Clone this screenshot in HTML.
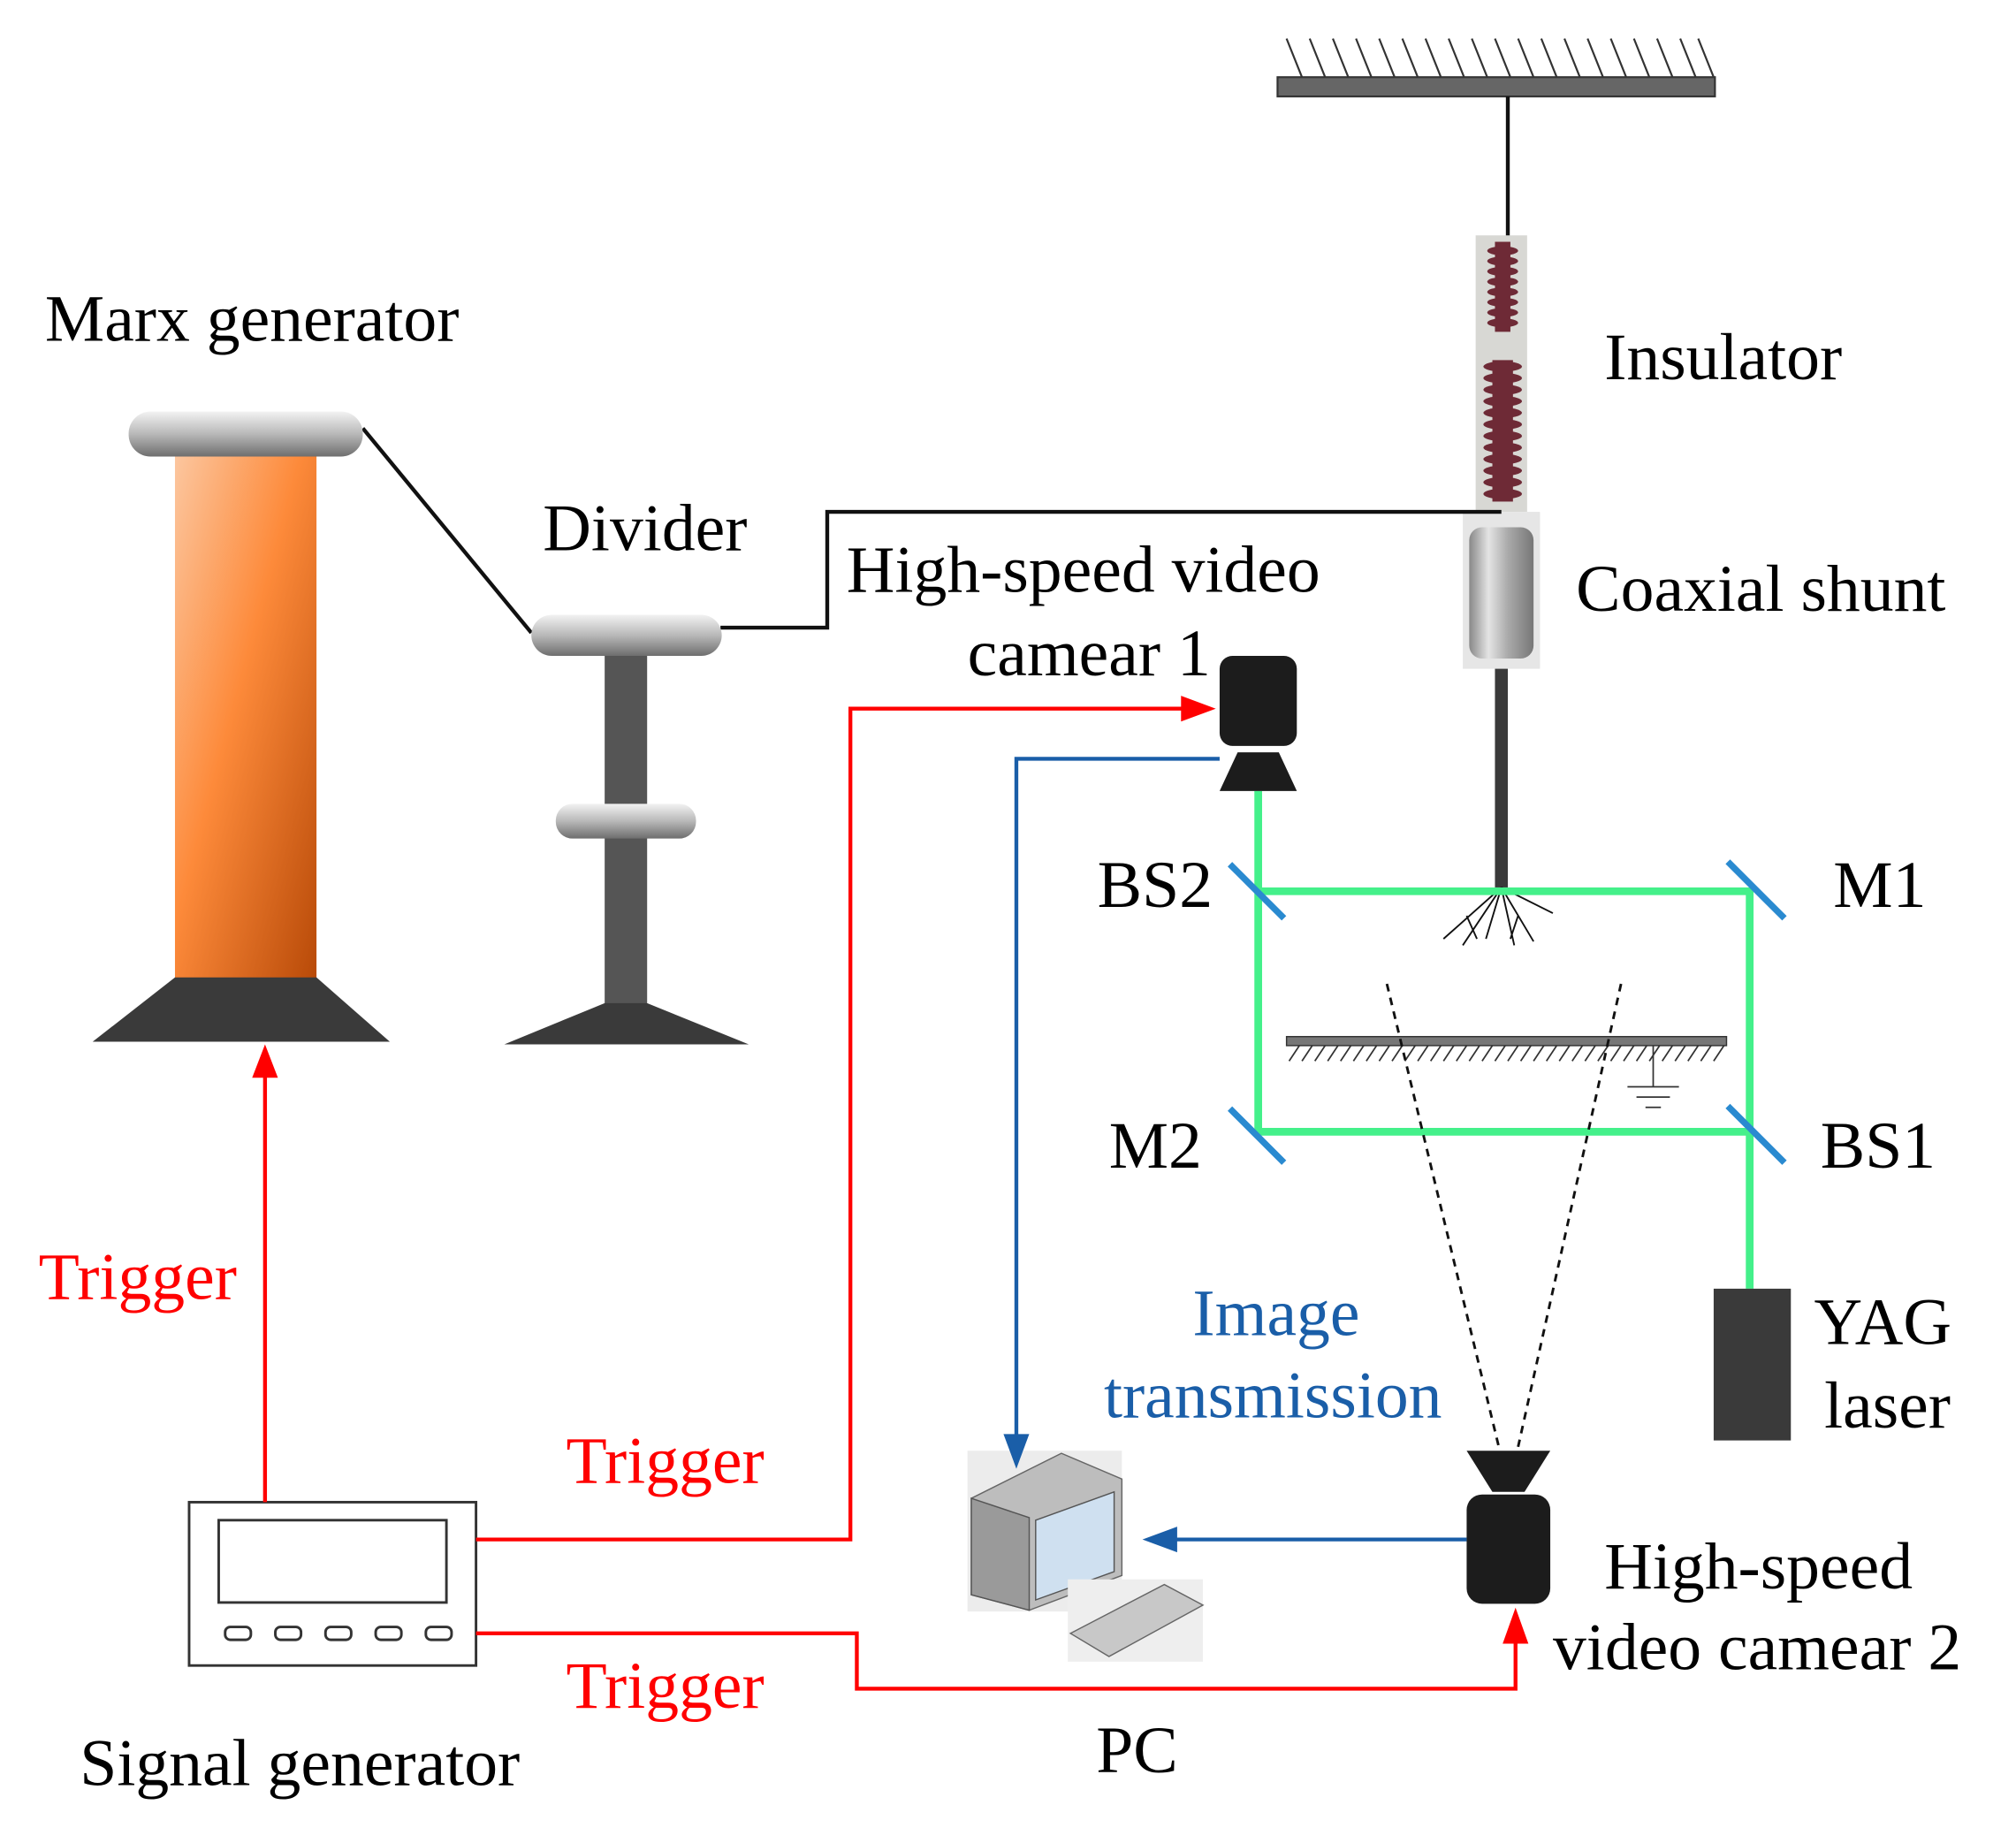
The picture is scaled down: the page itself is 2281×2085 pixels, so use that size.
<!DOCTYPE html>
<html><head><style>html,body{margin:0;padding:0;background:#fff}svg{display:block}</style></head>
<body>
<svg width="2281" height="2085" viewBox="0 0 1567 1433" preserveAspectRatio="none" xmlns="http://www.w3.org/2000/svg" font-family="Liberation Serif, serif">
<defs>
<linearGradient id="org" x1="0" y1="0" x2="1" y2="1"><stop offset="0" stop-color="#fcc7a0"/><stop offset="0.45" stop-color="#fd8a3a"/><stop offset="1" stop-color="#b84a08"/></linearGradient>
<linearGradient id="cap" x1="0" y1="0" x2="0" y2="1"><stop offset="0" stop-color="#f2f2f2"/><stop offset="0.5" stop-color="#b8b8b8"/><stop offset="1" stop-color="#6e6e6e"/></linearGradient>
<linearGradient id="met" x1="0" y1="0" x2="1" y2="0"><stop offset="0" stop-color="#888"/><stop offset="0.3" stop-color="#e4e4e4"/><stop offset="0.6" stop-color="#aaa"/><stop offset="1" stop-color="#777"/></linearGradient>
</defs>
<g stroke="#333" stroke-width="1.5">
<path d="M1000,30l12,30M1018,30l12,30M1036,30l12,30M1054,30l12,30M1072,30l12,30M1090,30l12,30M1108,30l12,30M1126,30l12,30M1144,30l12,30M1162,30l12,30M1180,30l12,30M1198,30l12,30M1216,30l12,30M1234,30l12,30M1252,30l12,30M1270,30l12,30M1288,30l12,30M1306,30l12,30M1320,30l12,30"/>
</g>
<rect x="993" y="60" width="340" height="15" fill="#666" stroke="#333" stroke-width="1.5"/>
<line x1="1172" y1="75" x2="1172" y2="185" stroke="#111" stroke-width="3"/>
<rect x="1147" y="183" width="40" height="215" fill="#d8d8d4"/>
<g fill="#6e2a36">
<rect x="1162" y="188" width="12" height="70"/>
<rect x="1160" y="280" width="16" height="110"/>
<g id="d"><ellipse cx="1168" cy="195" rx="12" ry="3.5"/></g>
<use href="#d" y="8"/><use href="#d" y="16"/><use href="#d" y="24"/><use href="#d" y="32"/><use href="#d" y="40"/><use href="#d" y="48"/><use href="#d" y="56"/>
<g id="e"><ellipse cx="1168" cy="285" rx="15" ry="4"/></g>
<use href="#e" y="9"/><use href="#e" y="18"/><use href="#e" y="27"/><use href="#e" y="36"/><use href="#e" y="45"/><use href="#e" y="54"/><use href="#e" y="63"/><use href="#e" y="72"/><use href="#e" y="81"/><use href="#e" y="90"/><use href="#e" y="99"/>
</g>
<rect x="1137" y="398" width="60" height="122" fill="#e6e6e6"/>
<rect x="1142" y="410" width="50" height="102" rx="10" fill="url(#met)"/>
<rect x="1162" y="520" width="10" height="170" fill="#3a3a3a"/>
<g stroke="#111" stroke-width="1.3" fill="none">
<path d="M1167,690l-45,40M1167,690l-30,45M1167,690l-12,40M1167,690l10,45M1167,690l25,42M1167,690l40,20M1140,712l8,18M1180,712l-6,18"/>
</g>
<polyline points="1167,398 643,398 643,488 560,488" fill="none" stroke="#111" stroke-width="3"/>
<line x1="282" y1="333" x2="413" y2="492" stroke="#111" stroke-width="3"/>
<rect x="136" y="350" width="110" height="412" fill="url(#org)"/>
<path d="M136,760H246L303,810H72Z" fill="#3a3a3a"/>
<rect x="100" y="320" width="182" height="35" rx="17" fill="url(#cap)"/>
<rect x="470" y="508" width="33" height="274" fill="#555"/>
<path d="M470,780H503L582,812H392Z" fill="#3a3a3a"/>
<rect x="413" y="478" width="148" height="32" rx="16" fill="url(#cap)"/>
<rect x="432" y="625" width="109" height="27" rx="13" fill="url(#cap)"/>
<g stroke="#44f08a" stroke-width="6" fill="none">
<polyline points="978,615 978,880 1360,880 1360,1002"/>
<polyline points="978,693 1360,693 1360,880"/>
</g>
<g stroke="#2a8ad0" stroke-width="5">
<line x1="956" y1="672" x2="998" y2="714"/><line x1="1343" y1="670" x2="1387" y2="714"/>
<line x1="956" y1="862" x2="998" y2="904"/><line x1="1343" y1="860" x2="1387" y2="904"/>
</g>
<rect x="1000" y="806" width="342" height="7" fill="#777" stroke="#333" stroke-width="1"/>
<g stroke="#333" stroke-width="1.2"><path d="M1010,813l-8,12M1020,813l-8,12M1030,813l-8,12M1040,813l-8,12M1050,813l-8,12M1060,813l-8,12M1070,813l-8,12M1080,813l-8,12M1090,813l-8,12M1100,813l-8,12M1110,813l-8,12M1120,813l-8,12M1130,813l-8,12M1140,813l-8,12M1150,813l-8,12M1160,813l-8,12M1170,813l-8,12M1180,813l-8,12M1190,813l-8,12M1200,813l-8,12M1210,813l-8,12M1220,813l-8,12M1230,813l-8,12M1240,813l-8,12M1250,813l-8,12M1260,813l-8,12M1270,813l-8,12M1280,813l-8,12M1290,813l-8,12M1300,813l-8,12M1310,813l-8,12M1320,813l-8,12M1330,813l-8,12M1340,813l-8,12"/>
<path d="M1285,813V845M1265,845H1305M1272,853H1298M1279,861H1291"/></g>
<g stroke="#111" stroke-width="2" stroke-dasharray="6,5"><line x1="1078" y1="765" x2="1165" y2="1125"/><line x1="1260" y1="765" x2="1180" y2="1125"/></g>
<rect x="1332" y="1002" width="60" height="118" fill="#3a3a3a"/>
<rect x="948" y="510" width="60" height="70" rx="10" fill="#1c1c1c"/>
<path d="M962,585H994L1008,615H948Z" fill="#1c1c1c"/>
<path d="M1140,1128H1205L1185,1160H1160Z" fill="#1c1c1c"/>
<rect x="1140" y="1162" width="65" height="85" rx="12" fill="#1c1c1c"/>
<rect x="752" y="1128" width="120" height="125" fill="#ececec"/>
<path d="M755,1165L825,1130L872,1150V1225L800,1252L755,1240Z" fill="#bdbdbd" stroke="#666"/>
<path d="M755,1165L800,1180V1252L755,1240Z" fill="#9a9a9a" stroke="#555"/>
<path d="M805,1182L866,1160V1222L805,1244Z" fill="#cfe0f0" stroke="#555"/>
<rect x="830" y="1228" width="105" height="64" fill="#eee"/>
<path d="M832,1270L905,1232L935,1248L862,1288Z" fill="#c8c8c8" stroke="#666"/>
<rect x="147" y="1168" width="223" height="127" fill="#fff" stroke="#333" stroke-width="2"/>
<rect x="170" y="1182" width="177" height="64" fill="#fff" stroke="#333" stroke-width="2"/>
<g fill="#fff" stroke="#333" stroke-width="2"><rect x="175" y="1265" width="20" height="10" rx="4"/><rect x="214" y="1265" width="20" height="10" rx="4"/><rect x="253" y="1265" width="20" height="10" rx="4"/><rect x="292" y="1265" width="20" height="10" rx="4"/><rect x="331" y="1265" width="20" height="10" rx="4"/></g>
<g stroke="#f00" stroke-width="3" fill="none">
<line x1="206" y1="1168" x2="206" y2="835"/>
<polyline points="370,1197 661,1197 661,551 920,551"/>
<polyline points="370,1270 666,1270 666,1313 1178,1313 1178,1275"/>
</g>
<g fill="#f00"><path d="M196,838L206,812L216,838Z"/><path d="M918,541L945,551L918,561Z"/><path d="M1168,1278L1178,1250L1188,1278Z"/></g>
<g stroke="#1a5ea8" stroke-width="3" fill="none">
<polyline points="948,590 790,590 790,1118"/>
<line x1="1140" y1="1197" x2="912" y2="1197"/>
</g>
<g fill="#1a5ea8"><path d="M780,1115L790,1142L800,1115Z"/><path d="M915,1187L888,1197L915,1207Z"/></g>
<g font-size="52" fill="#000">
<text x="35" y="265">Marx generator</text>
<text x="422" y="428">Divider</text>
<text x="658" y="460">High-speed video</text>
<text x="752" y="525">camear 1</text>
<text x="1247" y="295">Insulator</text>
<text x="1225" y="475">Coaxial shunt</text>
<text x="853" y="705">BS2</text>
<text x="1425" y="705">M1</text>
<text x="862" y="908">M2</text>
<text x="1415" y="908">BS1</text>
<text x="1410" y="1045">YAG</text>
<text x="1418" y="1110">laser</text>
<text x="1247" y="1235">High-speed</text>
<text x="1207" y="1298">video camear 2</text>
<text x="852" y="1378">PC</text>
<text x="62" y="1388">Signal generator</text>
</g>
<g font-size="52" fill="#f00">
<text x="30" y="1010">Trigger</text>
<text x="440" y="1153">Trigger</text>
<text x="440" y="1328">Trigger</text>
</g>
<g font-size="52" fill="#1a5ea8">
<text x="927" y="1038">Image</text>
<text x="858" y="1102">transmission</text>
</g>
</svg>
</body></html>
